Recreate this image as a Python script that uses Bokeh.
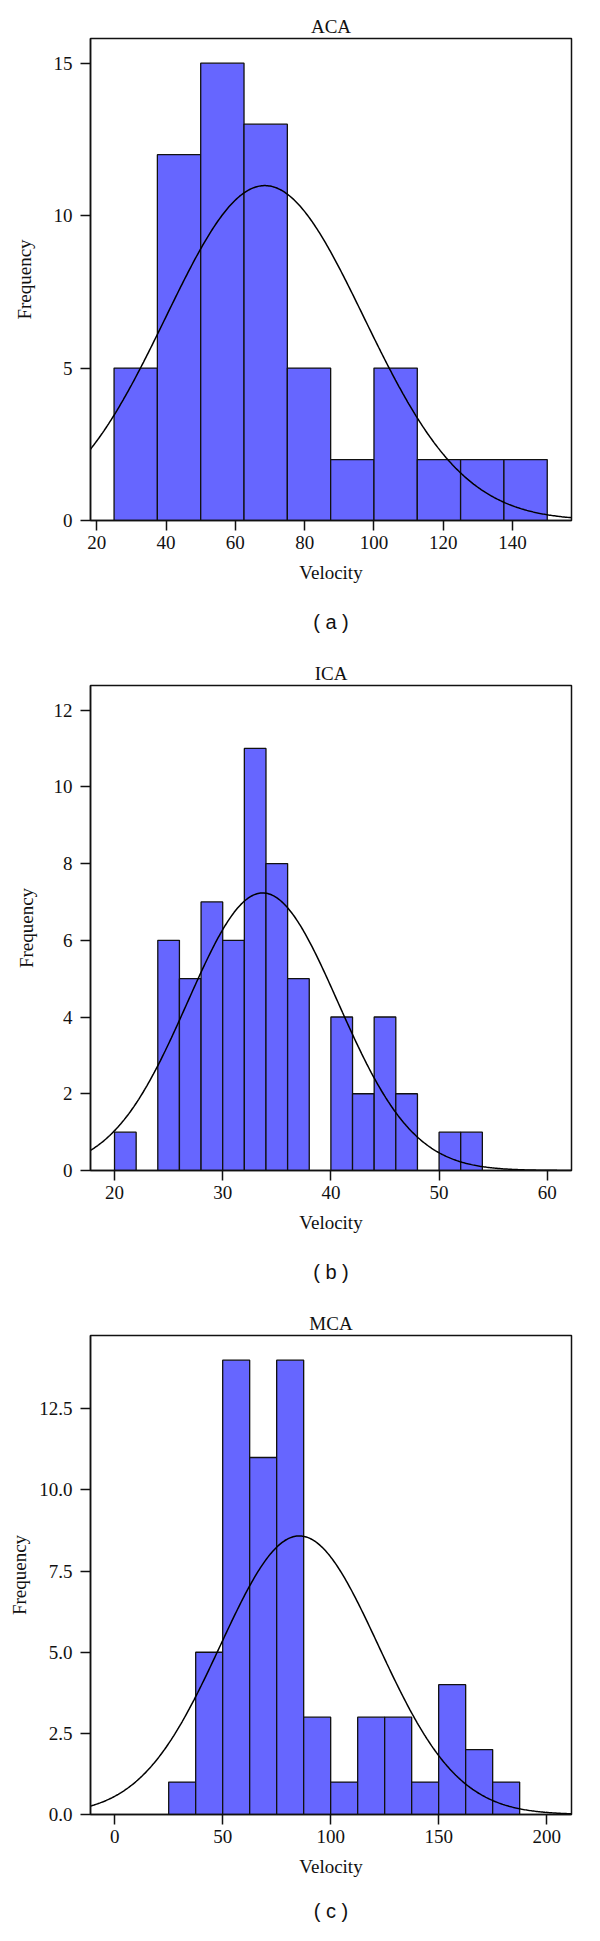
import numpy as np
from bokeh.plotting import figure
from bokeh.layouts import column
from bokeh.models import FixedTicker, PrintfTickFormatter, Title, LinearAxis
from bokeh.embed import file_html
from bokeh.resources import INLINE

# ---------------- data ----------------
aca_edges = [25, 37.5, 50, 62.5, 75, 87.5, 100, 112.5, 125, 137.5, 150]
aca_counts = [5, 12, 15, 13, 5, 2, 5, 2, 2, 2]
aca_mean, aca_sd = 68.5, 28.6
aca_xticks = [20, 40, 60, 80, 100, 120, 140]
aca_yticks = [0, 5, 10, 15]

ica_edges = [20, 22, 24, 26, 28, 30, 32, 34, 36, 38, 40, 42, 44, 46, 48, 50, 52, 54]
ica_counts = [1, 0, 6, 5, 7, 6, 11, 8, 5, 0, 4, 2, 4, 2, 0, 1, 1]
ica_mean, ica_sd = 33.7, 6.95
ica_xticks = [20, 30, 40, 50, 60]
ica_yticks = [0, 2, 4, 6, 8, 10, 12]

mca_edges = [25, 37.5, 50, 62.5, 75, 87.5, 100, 112.5, 125, 137.5, 150, 162.5, 175, 187.5]
mca_counts = [1, 5, 14, 11, 14, 3, 1, 3, 3, 1, 4, 2, 1]
mca_mean, mca_sd = 85.5, 36.6
mca_xticks = [0, 50, 100, 150, 200]
mca_yticks = [0, 2.5, 5, 7.5, 10, 12.5]

SERIF = "Liberation Serif"
SANS = "Liberation Sans"
BAR = "#6666FF"
INK = "#111111"
FS = "19px"


def panel(title, sub, edges, counts, mean, sd, xr, yr, xticks, yticks, yfmt,
          width, height, b_left, b_top, frame_w, frame_h, ylab_standoff, sub_standoff):
    p = figure(width=width, height=height, x_range=xr, y_range=yr,
               output_backend="svg", toolbar_location=None,
               min_border_left=b_left, min_border_top=b_top,
               min_border_right=width - b_left - frame_w,
               min_border_bottom=height - b_top - frame_h)
    p.title = None
    p.add_layout(Title(text=title, align="center", text_font=SERIF,
                       text_font_size=FS, text_font_style="normal",
                       text_color=INK, standoff=4), "above")
    p.xgrid.visible = False
    p.ygrid.visible = False
    p.background_fill_color = "white"
    p.border_fill_color = "white"
    p.outline_line_color = INK
    p.outline_line_width = 1.5

    left = edges[:-1]
    right = edges[1:]
    keep = [i for i, c in enumerate(counts) if c > 0]
    p.quad(left=[left[i] for i in keep], right=[right[i] for i in keep],
           bottom=0, top=[counts[i] for i in keep],
           fill_color=BAR, line_color=INK, line_width=1.3)

    # fitted normal curve scaled to the histogram counts
    n = sum(counts)
    bw = edges[1] - edges[0]
    xs = np.linspace(xr[0], xr[1], 400)
    ys = n * bw * np.exp(-0.5 * ((xs - mean) / sd) ** 2) / (sd * np.sqrt(2 * np.pi))
    p.line(xs, ys, line_color="black", line_width=1.5)

    for ax in (p.xaxis[0], p.yaxis[0]):
        ax.axis_line_color = INK
        ax.axis_line_width = 1.5
        ax.major_tick_line_color = INK
        ax.major_tick_line_width = 1.5
        ax.major_tick_out = 10
        ax.major_tick_in = 0
        ax.minor_tick_line_color = None
        ax.major_label_text_font = SERIF
        ax.major_label_text_font_size = FS
        ax.major_label_text_color = INK
        ax.axis_label_text_font = SERIF
        ax.axis_label_text_font_size = FS
        ax.axis_label_text_font_style = "normal"
        ax.axis_label_text_color = INK

    p.xaxis.ticker = FixedTicker(ticks=xticks)
    p.yaxis.ticker = FixedTicker(ticks=yticks)
    if yfmt:
        p.yaxis.formatter = PrintfTickFormatter(format=yfmt)
    p.xaxis.axis_label = "Velocity"
    p.yaxis.axis_label = "Frequency"
    p.xaxis.major_label_standoff = 5
    p.yaxis.major_label_standoff = 8
    p.xaxis.axis_label_standoff = 10
    p.yaxis.axis_label_standoff = ylab_standoff

    # sub-figure caption: an extra tick-less axis below, used only for its label
    cap = LinearAxis(ticker=FixedTicker(ticks=[]), axis_label=sub,
                     axis_line_color=None, major_tick_line_color=None,
                     minor_tick_line_color=None, major_tick_out=0, major_tick_in=0,
                     major_label_standoff=0, axis_label_standoff=sub_standoff,
                     axis_label_text_font=SANS, axis_label_text_font_size="20px",
                     axis_label_text_font_style="normal", axis_label_text_color=INK,
                     axis_label_text_align="right")
    p.add_layout(cap, "below")
    return p


pa = panel("ACA", "( a )", aca_edges, aca_counts, aca_mean, aca_sd,
           (18.2, 157.0), (0, 15.81), aca_xticks, aca_yticks, None,
           584, 647, 86, 38, 485, 482, 16, 25)
pb = panel("ICA", "( b )", ica_edges, ica_counts, ica_mean, ica_sd,
           (17.78, 62.24), (0, 12.64), ica_xticks, ica_yticks, None,
           584, 650, 84, 38, 487, 485, 14, 25)
pc = panel("MCA", "( c )", mca_edges, mca_counts, mca_mean, mca_sd,
           (-11.2, 211.5), (0, 14.76), mca_xticks, mca_yticks, "%.1f",
           584, 628, 90, 38, 481, 479, 6, 20)

layout = column(pa, pb, pc, spacing=0)
open("out.html", "w").write(file_html(layout, INLINE))
